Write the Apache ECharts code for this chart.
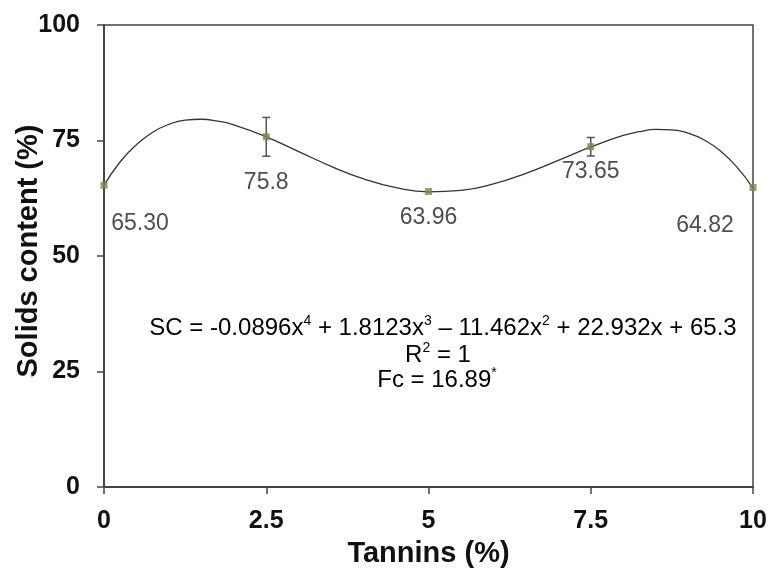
<!DOCTYPE html>
<html>
<head>
<meta charset="utf-8">
<script src="https://cdn.jsdelivr.net/npm/echarts@6/dist/echarts.min.js"></script>
<style>html,body{margin:0;padding:0;background:#fff}#c{width:768px;height:570px}</style>
</head>
<body>
<div id="c"></div>
<script>
// Data
const tannins = [0, 2.5, 5, 7.5, 10];
const solids = [65.30, 75.8, 63.96, 73.65, 64.82];
const solidsLabels = ['65.30', '75.8', '63.96', '73.65', '64.82'];
const errors = [0, 4.2, 0, 2.0, 0];
// Trend curve
const curveX = [0, 0.25, 0.5, 0.75, 1, 1.25, 1.5, 1.75, 2, 2.5, 3, 3.5, 4, 4.5, 5, 5.5, 6, 6.5, 7, 7.5, 8, 8.25, 8.5, 8.75, 9, 9.25, 9.5, 9.75, 10];
const curveY = [65.3, 70.4, 74.1, 76.8, 78.5, 79.4, 79.6, 79.2, 78.4, 75.8, 72.6, 69.4, 66.7, 64.8, 63.9, 64.2, 65.6, 67.9, 70.7, 73.6, 76.1, 76.9, 77.4, 77.3, 76.6, 75.1, 72.7, 69.3, 64.7];
const xTicks = ['0', '2.5', '5', '7.5', '10'];
const yTicks = ['0', '25', '50', '75', '100'];
const xTitle = 'Tannins (%)';
const yTitle = 'Solids content (%)';

// label offsets (styling only)
const labelOffsets = [[36, 38], [0, 46], [0, 26], [0, 25], [-48, 38]];

const chart = echarts.init(document.getElementById('c'));
const FONT = '"Liberation Sans", Arial, sans-serif';
const TXT = '#222';

const richStyle = {
  t: { fontFamily: FONT, fontSize: 24, color: TXT, lineHeight: 28 },
  s: { fontFamily: FONT, fontSize: 14, color: TXT, verticalAlign: 'top', lineHeight: 28, padding: [0, 0, 10, 0] }
};

chart.setOption({
  animation: false,
  backgroundColor: '#fff',
  grid: { left: 104, right: 15, top: 25, bottom: 83, show: true, borderColor: '#444', borderWidth: 1.5,
    backgroundColor: 'transparent', outerBoundsMode: 'none', containLabel: false },
  xAxis: {
    type: 'value', min: 0, max: 10, interval: 2.5,
    name: xTitle, nameLocation: 'middle', nameGap: 52,
    nameTextStyle: { fontFamily: FONT, fontWeight: 'bold', fontSize: 29, color: '#111' },
    axisLine: { show: true, lineStyle: { color: '#444', width: 2 } },
    axisTick: { show: true, length: 7, inside: false, lineStyle: { color: '#444', width: 1.5 } },
    axisLabel: { margin: 22, fontFamily: FONT, fontWeight: 'bold', fontSize: 25, color: '#111',
      formatter: (v) => xTicks[Math.round(v / 2.5)] },
    splitLine: { show: false }
  },
  yAxis: {
    type: 'value', min: 0, max: 100, interval: 25,
    axisLine: { show: true, lineStyle: { color: '#444', width: 2 } },
    axisTick: { show: true, length: 7, inside: false, lineStyle: { color: '#444', width: 1.5 } },
    axisLabel: { margin: 24, fontFamily: FONT, fontWeight: 'bold', fontSize: 25, color: '#111',
      formatter: (v) => yTicks[Math.round(v / 25)] },
    splitLine: { show: false }
  },
  series: [
    {
      type: 'line', data: curveX.map((x, i) => [x, curveY[i]]), smooth: 0.5, showSymbol: false,
      lineStyle: { color: '#333', width: 1.3 }, z: 2, silent: true
    },
    {
      type: 'custom', z: 3, silent: true,
      data: tannins.map((x, i) => [x, solids[i], errors[i]]),
      renderItem: function (params, api) {
        const x = api.value(0), y = api.value(1), e = api.value(2);
        if (!e) return { type: 'group', children: [] };
        const top = api.coord([x, y + e]);
        const bot = api.coord([x, y - e]);
        const st = { stroke: '#555', lineWidth: 1.5 };
        return { type: 'group', children: [
          { type: 'line', shape: { x1: top[0], y1: top[1], x2: bot[0], y2: bot[1] }, style: st },
          { type: 'line', shape: { x1: top[0] - 4, y1: top[1], x2: top[0] + 4, y2: top[1] }, style: st },
          { type: 'line', shape: { x1: bot[0] - 4, y1: bot[1], x2: bot[0] + 4, y2: bot[1] }, style: st }
        ] };
      }
    },
    {
      type: 'scatter', z: 4, symbol: 'rect', symbolSize: 7,
      itemStyle: { color: '#7a8a45' },
      data: tannins.map((x, i) => ({
        value: [x, solids[i]],
        label: { show: true, position: 'inside', offset: labelOffsets[i], formatter: solidsLabels[i],
          fontFamily: FONT, fontSize: 23, color: TXT }
      }))
    }
  ],
  graphic: [
    {
      type: 'text', x: 29, y: 251, rotation: Math.PI / 2, z: 10,
      style: { text: yTitle, align: 'center', verticalAlign: 'middle',
        fontFamily: FONT, fontWeight: 'bold', fontSize: 29, fill: '#111' }
    },
    {
      type: 'text', x: 443, y: 328, z: 10,
      style: {
        text: '{t|SC = -0.0896x}{s|4}{t| + 1.8123x}{s|3}{t| \u2013 11.462x}{s|2}{t| + 22.932x + 65.3}',
        align: 'center', verticalAlign: 'middle', rich: richStyle
      }
    },
    {
      type: 'text', x: 438, y: 355, z: 10,
      style: { text: '{t|R}{s|2}{t| = 1}', align: 'center', verticalAlign: 'middle', rich: richStyle }
    },
    {
      type: 'text', x: 437, y: 380, z: 10,
      style: { text: '{t|Fc = 16.89}{s|*}', align: 'center', verticalAlign: 'middle', rich: richStyle }
    }
  ]
});
</script>
</body>
</html>
